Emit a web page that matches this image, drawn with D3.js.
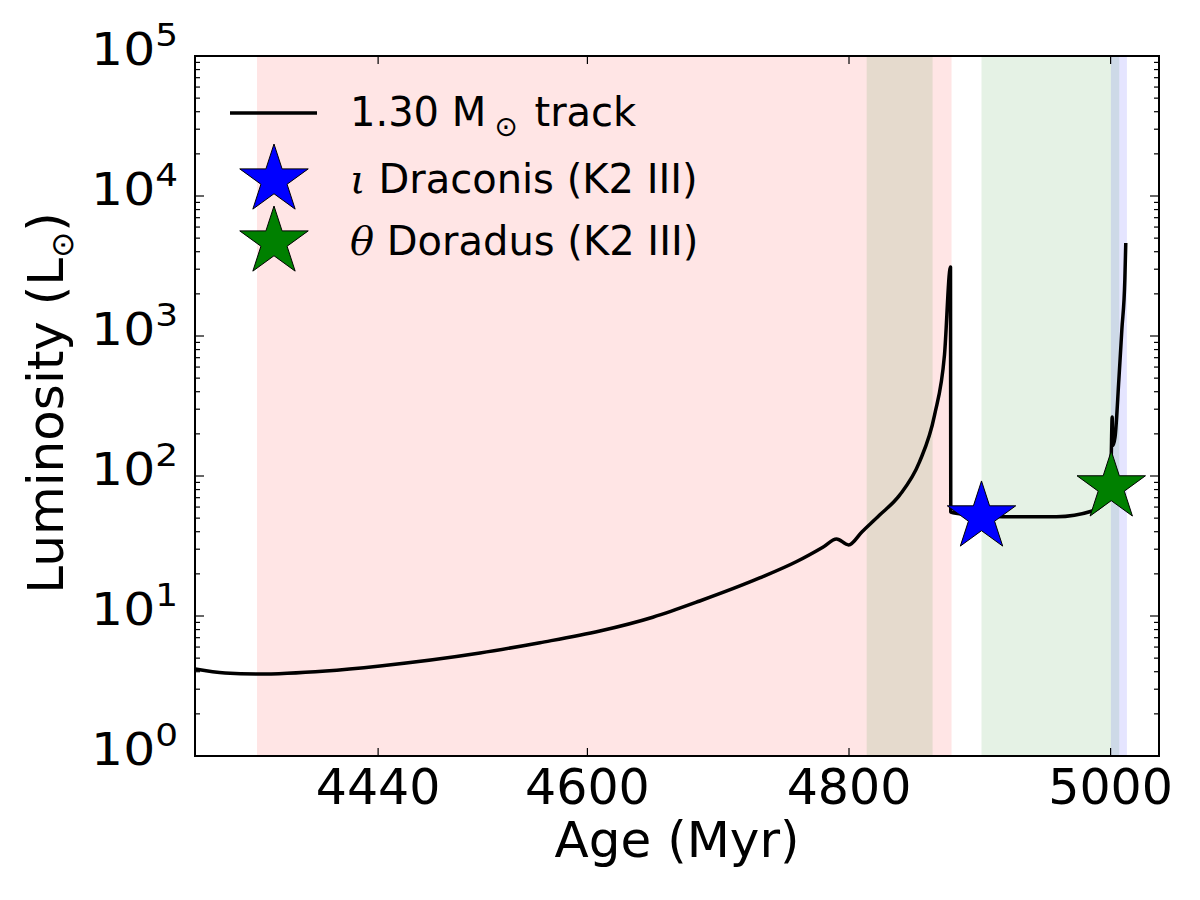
<!DOCTYPE html>
<html>
<head>
<meta charset="utf-8">
<script src="https://cdn.jsdelivr.net/npm/d3@7"></script>
<style>
  body { margin: 0; background: #fff; }
  svg text { font-family: "DejaVu Sans", sans-serif; fill: #000; }
</style>
</head>
<body>
<div id="chart"></div>
<script>
// evolutionary track, age in Myr and luminosity in Lsun
var trackAge = [4300.2, 4323, 4347.6, 4400, 4441.5, 4517.9, 4563.7, 4609.5, 4650, 4685.9,
    4731.7, 4760, 4780, 4790.5, 4799.7, 4810, 4823.4, 4838.7, 4853.9, 4865.4, 4873, 4877.6,
    4877.8, 4890, 4917.3, 4958.6, 4986.0, 4996.7, 5000.3, 5001.2, 5001.6, 5003.4, 5006.3,
    5008.6, 5010.9, 5011.6];
var trackLum = [4.18, 3.91, 3.85, 4.05, 4.40, 5.44, 6.45, 7.81, 9.8, 12.8,
    18.7, 24.5, 31, 35.5, 32.2, 40, 52.6, 73, 126, 272, 733, 3110,
    55.3, 53, 51.2, 51.2, 56.2, 67, 120, 264, 165, 190, 485,
    1110, 2550, 4620];

// shaded phases
var bandStart = [4347.4, 4813.5, 4901.3, 5000.2];
var bandEnd = [4878.4, 4863.9, 5006.6, 5012.5];
var bandColor = ["red", "green", "green", "blue"];

// stars
var starName = ["\u03b9", "\u03b8"];
var starLabel = [" Draconis (K2 III)", " Doradus (K2 III)"];
var starAge = [4901.3, 5000.5];
var starLum = [51, 83.6];
var starColor = ["#0000ff", "#008000"];

var xTicks = [4440, 4600, 4800, 5000];
var yExp = [0, 1, 2, 3, 4, 5];

var W = 1200, H = 900;
var margin = {top: 56, right: 41, bottom: 144, left: 195};
var width = W - margin.left - margin.right,
    height = H - margin.top - margin.bottom;

var svg = d3.select("#chart").append("svg")
    .attr("width", W).attr("height", H);

var g = svg.append("g")
    .attr("transform", "translate(" + margin.left + "," + margin.top + ")");

var x = d3.scaleLinear().domain([4300, 5037]).range([0, width]);
var y = d3.scaleLog().domain([1, 1e5]).range([height, 0]);

// bands
g.selectAll("rect.band")
    .data(bandStart)
    .enter().append("rect")
    .attr("class", "band")
    .attr("x", function(d) { return x(d); })
    .attr("width", function(d, i) { return x(bandEnd[i]) - x(d); })
    .attr("y", 0)
    .attr("height", height)
    .attr("fill", function(d, i) { return bandColor[i]; })
    .attr("fill-opacity", 0.1);

// track
g.append("path")
    .datum(trackAge)
    .attr("fill", "none")
    .attr("stroke", "#000")
    .attr("stroke-width", 3.5)
    .attr("stroke-linejoin", "round")
    .attr("d", d3.line()
        .curve(d3.curveMonotoneX)
        .x(function(d) { return x(d); })
        .y(function(d, i) { return y(trackLum[i]); })
    );

// star symbol, outer radius r
function star(r) {
    return d3.symbol().type(d3.symbolStar).size(r * r / 0.8908130915292852)();
}

g.selectAll("path.star")
    .data(starAge)
    .enter().append("path")
    .attr("class", "star")
    .attr("transform", function(d, i) { return "translate(" + x(d) + "," + y(starLum[i]) + ")"; })
    .attr("d", star(36))
    .attr("fill", function(d, i) { return starColor[i]; })
    .attr("stroke", "#000")
    .attr("stroke-width", 1);

// axes: ticks inward on all four sides
var minor = [];
yExp.slice(0, -1).forEach(function(e) {
    for (var k = 2; k <= 9; k++) minor.push(k * Math.pow(10, e));
});
var majorY = yExp.map(function(e) { return Math.pow(10, e); });

var tickG = g.append("g").attr("stroke", "#000").attr("stroke-width", 1.2);
xTicks.forEach(function(t) {
    tickG.append("line").attr("x1", x(t)).attr("x2", x(t)).attr("y1", height).attr("y2", height - 8);
    tickG.append("line").attr("x1", x(t)).attr("x2", x(t)).attr("y1", 0).attr("y2", 8);
});
majorY.forEach(function(t) {
    tickG.append("line").attr("x1", 0).attr("x2", 9).attr("y1", y(t)).attr("y2", y(t));
    tickG.append("line").attr("x1", width).attr("x2", width - 9).attr("y1", y(t)).attr("y2", y(t));
});
minor.forEach(function(t) {
    tickG.append("line").attr("x1", 0).attr("x2", 5).attr("y1", y(t)).attr("y2", y(t));
    tickG.append("line").attr("x1", width).attr("x2", width - 5).attr("y1", y(t)).attr("y2", y(t));
});

// frame
g.append("rect")
    .attr("width", width).attr("height", height)
    .attr("fill", "none").attr("stroke", "#000").attr("stroke-width", 2);

// x tick labels
g.selectAll("text.xt")
    .data(xTicks)
    .enter().append("text")
    .attr("class", "xt")
    .attr("x", function(d) { return x(d); })
    .attr("y", height + 48)
    .attr("text-anchor", "middle")
    .style("font-size", "49px")
    .text(function(d) { return d; });

// y tick labels 10^n (mathtext in the original is drawn a bit wide)
var yl = g.selectAll("g.yt")
    .data(yExp)
    .enter().append("g")
    .attr("class", "yt")
    .attr("transform", function(d) { return "translate(-17," + (y(Math.pow(10, d)) + 9) + ") scale(1.12,1)"; })
    .append("text")
    .attr("text-anchor", "end")
    .style("font-size", "45px");
yl.append("tspan").text("10");
yl.append("tspan").attr("dy", -19).style("font-size", "32px").text(function(d) { return d; });

// axis labels
svg.append("text")
    .attr("x", margin.left + width / 2)
    .attr("y", 857)
    .attr("text-anchor", "middle")
    .style("font-size", "50px")
    .text("Age (Myr)");

var ylab = svg.append("text")
    .attr("transform", "translate(63," + 403 + ") rotate(-90)")
    .attr("text-anchor", "middle")
    .style("font-size", "50px");
ylab.append("tspan").text("Luminosity (L");
ylab.append("tspan").attr("dy", 10).style("font-size", "31px").text("\u2299");
ylab.append("tspan").attr("dy", -10).text(")");

// legend
var lg = svg.append("g");
lg.append("line")
    .attr("x1", 230).attr("x2", 317).attr("y1", 113).attr("y2", 113)
    .attr("stroke", "#000").attr("stroke-width", 3.5);
var t1 = lg.append("text").attr("x", 350).attr("y", 126).style("font-size", "40px");
t1.append("tspan").text("1.30 M");
t1.append("tspan").attr("dx", 8).attr("dy", 10).style("font-size", "28px").text("\u2299");
t1.append("tspan").attr("dx", 4).attr("dy", -10).text(" track");

starName.forEach(function(nm, i) {
    var cy = 180 + i * 62;
    lg.append("path")
        .attr("transform", "translate(274," + cy + ")")
        .attr("d", star(36))
        .attr("fill", starColor[i])
        .attr("stroke", "#000")
        .attr("stroke-width", 1);
    var t = lg.append("text").attr("x", 350).attr("y", cy + 13).style("font-size", "40px");
    t.append("tspan").style("font-family", "'DejaVu Serif', serif").style("font-style", "italic").text(nm);
    t.append("tspan").text(starLabel[i]);
});
</script>
</body>
</html>
